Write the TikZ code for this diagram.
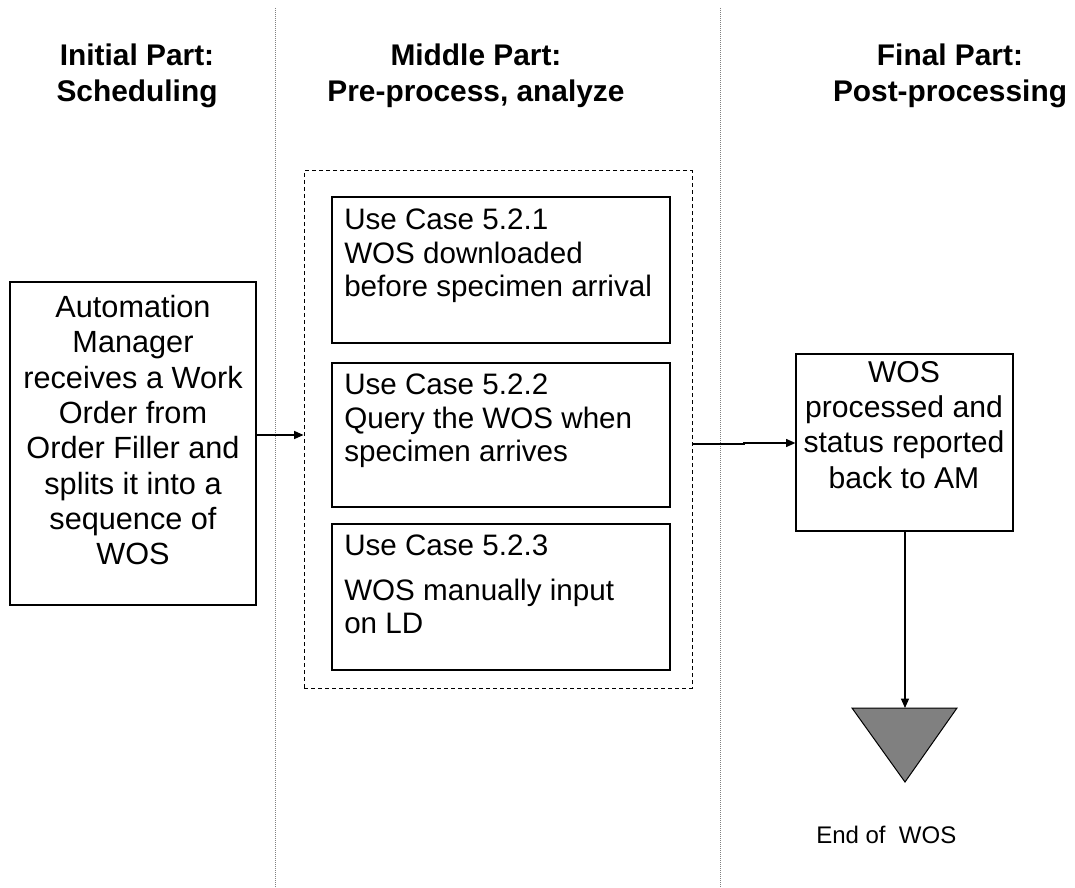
\documentclass[tikz,border=0pt]{standalone}
\usepackage{fontspec}
\setmainfont{Liberation Sans}
\usetikzlibrary{arrows.meta}
\usetikzlibrary{positioning}
\tikzset{
	txt/.style={inner sep=0pt, font=\fontsize{22.2}{26.5}\selectfont},
	head/.style={txt, align=center, anchor=north, font=\fontsize{22.4}{26.8}\selectfont\bfseries},
	box/.style={draw, line width=0.9pt, inner sep=0pt},
	lane/.style={draw=gray, line width=0.75pt, dash pattern=on 0.75pt off 0.75pt},
	arr/.style={line width=0.9pt, -{Triangle[length=7pt,width=6pt]}}
}
\begin{document}
\begin{tikzpicture}[x=0.75pt, y=-0.75pt]
		\useasboundingbox (0,0) rectangle (1075,888);
		\coordinate (laneAtop) at (275,8);
		\coordinate (laneAbot) at (275,888);
		\coordinate (laneBtop) at (720,8);
		\coordinate (laneBbot) at (720,888);
		\draw[lane] (laneAtop) -- (laneAbot);
		\draw[lane] (laneBtop) -- (laneBbot);
		\node[head] (hinit) at (137,43.5) {Initial Part:\\Scheduling};
		\node[head] (hmid) at (476,43.5) {Middle Part:\\Pre-process, analyze};
		\node[head] (hfinal) at (950,43.5) {Final Part:\\Post-processing};
		\node[box, minimum width=246*0.75pt, minimum height=323*0.75pt] (amgr) at (133,443.5) {};
		\node[txt, align=center, anchor=north, font=\fontsize{23}{26.5}\selectfont] (amgrtxt) at (133,295) {Automation\\Manager\\receives a Work\\Order from\\Order Filler and\\splits it into a\\sequence of\\WOS};
		\node[box, dash pattern=on 3pt off 2.25pt, line width=0.75pt, minimum width=388*0.75pt, minimum height=517*0.75pt] (mid) at (498,429.5) {};
		\node[box, minimum width=338*0.75pt, minimum height=146*0.75pt] (uca) at (501,270) {};
		\node[box, minimum width=338*0.75pt, minimum height=144*0.75pt] (ucb) at (501,435) {};
		\node[box, minimum width=338*0.75pt, minimum height=146*0.75pt] (ucc) at (501,597) {};
		\node[txt, align=left, anchor=north west, font=\fontsize{22.2}{25.1}\selectfont] (ucatxt) at (344,209) {Use Case 5.2.1\\WOS downloaded\\before specimen arrival};
		\node[txt, align=left, anchor=north west, font=\fontsize{22.2}{25.1}\selectfont] (ucbtxt) at (344,374) {Use Case 5.2.2\\Query the WOS when\\specimen arrives};
		\node[txt, align=left, anchor=north west, font=\fontsize{22.2}{25.1}\selectfont] (ucctxt) at (344,535) {Use Case 5.2.3\\[8pt]WOS manually input\\on LD};
		\node[box, minimum width=217*0.75pt, minimum height=177*0.75pt] (wosp) at (904.5,442.5) {};
		\node[txt, align=center, anchor=north, font=\fontsize{22.6}{26.3}\selectfont] (wosptxt) at (904,361.5) {WOS\\processed and\\status reported\\back to AM};
		\coordinate (endtop) at (905,708);
		\draw[line width=0.75pt, fill=gray] (endtop) -- (852,708) -- (905,782) -- (957,708) -- cycle;
		\node[txt, anchor=base west, font=\fontsize{18}{21}\selectfont] (endtxt) at (816,843) {End of\ \ WOS};
		\draw[arr] (amgr.east |- 0,435) -- (mid.west |- 0,435);
		\draw[arr] (mid.east |- 0,444) -- (744,444) |- (wosp.west |- 0,443);
		\draw[arr] (wosp.south -| endtop) -- (endtop);
	\end{tikzpicture}
\end{document}
